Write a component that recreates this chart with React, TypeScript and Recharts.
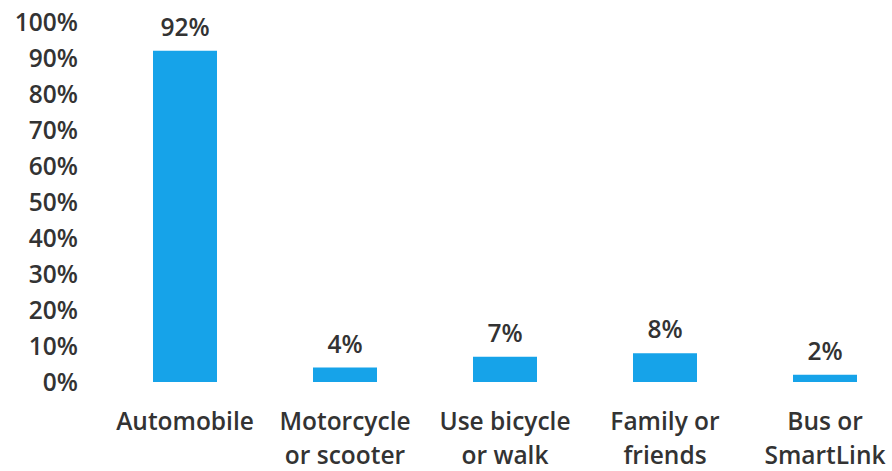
import React from 'react';
import { BarChart, Bar, XAxis, YAxis, LabelList } from 'recharts';

const categories = ['Automobile', 'Motorcycle or scooter', 'Use bicycle or walk', 'Family or friends', 'Bus or SmartLink'];
const labelLines = [['Automobile'], ['Motorcycle', 'or scooter'], ['Use bicycle', 'or walk'], ['Family or', 'friends'], ['Bus or', 'SmartLink']];
const shares = [92, 4, 7, 8, 2];
const yTicks = [0, 10, 20, 30, 40, 50, 60, 70, 80, 90, 100];

const data = categories.map((name, i) => ({ name, value: shares[i] }));

const FONT = '"Open Sans", Lato, sans-serif';
const TEXT = '#333333';
const SIZE = 24.5;

function CategoryTick(props: any) {
  const { x, y, index } = props;
  const lines = labelLines[index] || [];
  return (
    <g transform={`translate(${x},${y})`}>
      {lines.map((line, i) => (
        <text key={i} x={0} y={46 + i * 34} textAnchor="middle" fill={TEXT} fontSize={SIZE} fontWeight={600} fontFamily={FONT}>
          {line}
        </text>
      ))}
    </g>
  );
}

export default function App() {
  return (
    <div style={{ position: 'absolute', left: 0, top: 0, width: 892, height: 471, overflow: 'hidden', background: '#fff' }}>
      <BarChart width={910} height={471} data={data} margin={{ top: 22, right: 5, bottom: 0, left: 0 }}>
        <XAxis
          dataKey="name"
          height={89}
          axisLine={false}
          tickLine={false}
          tickSize={0}
          interval={0}
          tick={<CategoryTick />}
        />
        <YAxis
          width={105}
          domain={[0, 100]}
          ticks={yTicks}
          axisLine={false}
          tickLine={false}
          tickSize={0}
          tickMargin={27}
          tickFormatter={(v: number) => `${v}%`}
          tick={{ fill: TEXT, fontSize: SIZE, fontWeight: 600, fontFamily: FONT }}
          interval={0}
        />
        <Bar dataKey="value" fill="#16a3e9" barSize={64} isAnimationActive={false}>
          <LabelList
            dataKey="value"
            position="top"
            offset={15}
            formatter={(v: any) => `${v}%`}
            style={{ fill: TEXT, fontSize: SIZE, fontWeight: 600, fontFamily: FONT }}
          />
        </Bar>
      </BarChart>
    </div>
  );
}
